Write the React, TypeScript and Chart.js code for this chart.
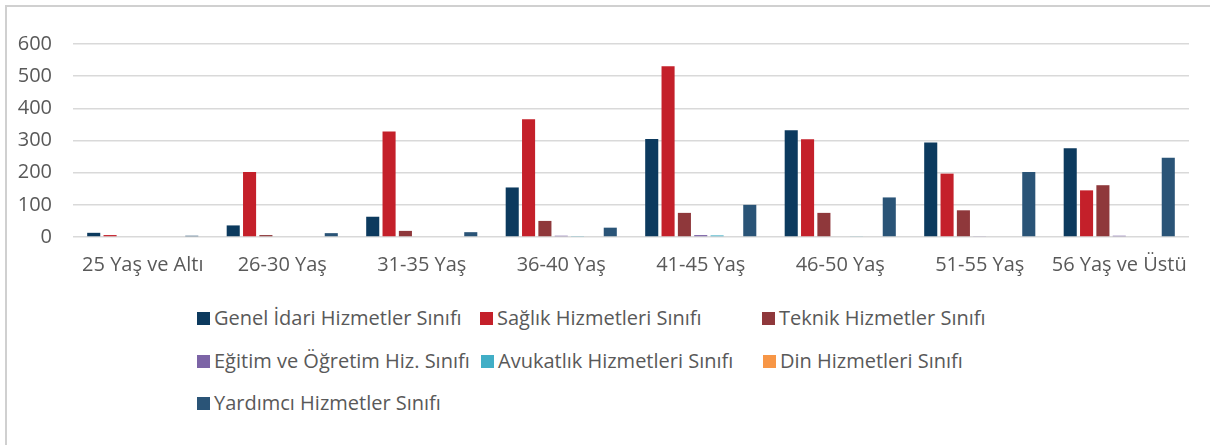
import React, { useEffect, useRef } from "react";
import { Chart, registerables } from "chart.js";

Chart.register(...registerables);

const categories = [
  "25 Yaş ve Altı",
  "26-30 Yaş",
  "31-35 Yaş",
  "36-40 Yaş",
  "41-45 Yaş",
  "46-50 Yaş",
  "51-55 Yaş",
  "56 Yaş ve Üstü",
];

const seriesNames = [
  "Genel İdari Hizmetler Sınıfı",
  "Sağlık Hizmetleri Sınıfı",
  "Teknik Hizmetler Sınıfı",
  "Eğitim ve Öğretim Hiz. Sınıfı",
  "Avukatlık Hizmetleri Sınıfı",
  "Din Hizmetleri Sınıfı",
  "Yardımcı Hizmetler Sınıfı",
];

const genelIdari = [13, 36, 63, 154, 305, 332, 294, 276];
const saglik = [6, 202, 328, 366, 531, 304, 197, 145];
const teknik = [0, 6, 19, 50, 75, 75, 83, 161];
const egitim = [0, 0, 0, 4, 6, 0, 2, 4];
const avukatlik = [0, 0, 0, 3, 5, 2, 0, 0];
const din = [0, 0, 0, 0, 0, 0, 0, 0];
const yardimci = [4, 12, 15, 29, 100, 123, 202, 246];

const seriesValues = [genelIdari, saglik, teknik, egitim, avukatlik, din, yardimci];

const colors = ["#0C3A5E", "#C4202A", "#8F383B", "#7C64A6", "#41AEC6", "#F79646", "#2A5477"];

const yTicks = [0, 100, 200, 300, 400, 500, 600];

const legendPos = [
  { x: 197, y: 318 },
  { x: 480, y: 318 },
  { x: 762, y: 318 },
  { x: 197, y: 361 },
  { x: 481, y: 361 },
  { x: 763, y: 361 },
  { x: 197, y: 403 },
];

const FONT = "'Open Sans', 'DejaVu Sans', sans-serif";

export default function App() {
  const ref = useRef<HTMLCanvasElement>(null);

  useEffect(() => {
    if (!ref.current) return;
    const chart = new Chart(ref.current, {
      type: "bar",
      data: {
        labels: categories,
        datasets: seriesNames.map((name, i) => ({
          label: name,
          data: seriesValues[i],
          backgroundColor: colors[i],
          borderWidth: 0,
          categoryPercentage: 0.82,
          barPercentage: 0.8,
        })),
      },
      options: {
        animation: false,
        responsive: false,
        maintainAspectRatio: false,
        layout: { padding: { top: 44, left: 0, right: 21, bottom: 0 } },
        plugins: { legend: { display: false }, tooltip: { enabled: false } },
        scales: {
          x: {
            grid: { display: false, drawTicks: false },
            border: { display: false },
            ticks: {
              color: "#595959",
              font: { family: FONT, size: 20 },
              padding: 16,
              maxRotation: 0,
              autoSkip: false,
            },
            afterFit: (s: any) => {
              s.height = 63;
            },
          },
          y: {
            min: 0,
            max: 600,
            afterBuildTicks: (s: any) => {
              s.ticks = yTicks.map((v) => ({ value: v }));
            },
            grid: { color: "#D9D9D9", lineWidth: 1.5, drawTicks: false },
            border: { display: false },
            ticks: {
              color: "#595959",
              font: { family: FONT, size: 20 },
              padding: 21,
            },
            afterFit: (s: any) => {
              s.width = 73;
            },
          },
        },
      },
    });
    return () => chart.destroy();
  }, []);

  return (
    <div
      style={{
        position: "absolute",
        left: 0,
        top: 0,
        width: 1210,
        height: 445,
        background: "#fff",
        overflow: "hidden",
      }}
    >
      <div
        style={{
          position: "absolute",
          left: 5,
          top: 5,
          width: 1220,
          height: 460,
          borderLeft: "2px solid #D0D0D0",
          borderTop: "2px solid #D0D0D0",
        }}
      />
      <canvas ref={ref} width={1210} height={300} style={{ position: "absolute", left: 0, top: 0 }} />
      {seriesNames.map((name, i) => (
        <div key={name}>
          <div
            style={{
              position: "absolute",
              left: legendPos[i].x,
              top: legendPos[i].y - 6.5,
              width: 13,
              height: 13,
              background: colors[i],
            }}
          />
          <div
            style={{
              position: "absolute",
              left: legendPos[i].x + 17,
              top: legendPos[i].y - 14,
              height: 28,
              lineHeight: "28px",
              fontFamily: FONT,
              fontSize: 20,
              color: "#595959",
              whiteSpace: "nowrap",
            }}
          >
            {name}
          </div>
        </div>
      ))}
    </div>
  );
}
